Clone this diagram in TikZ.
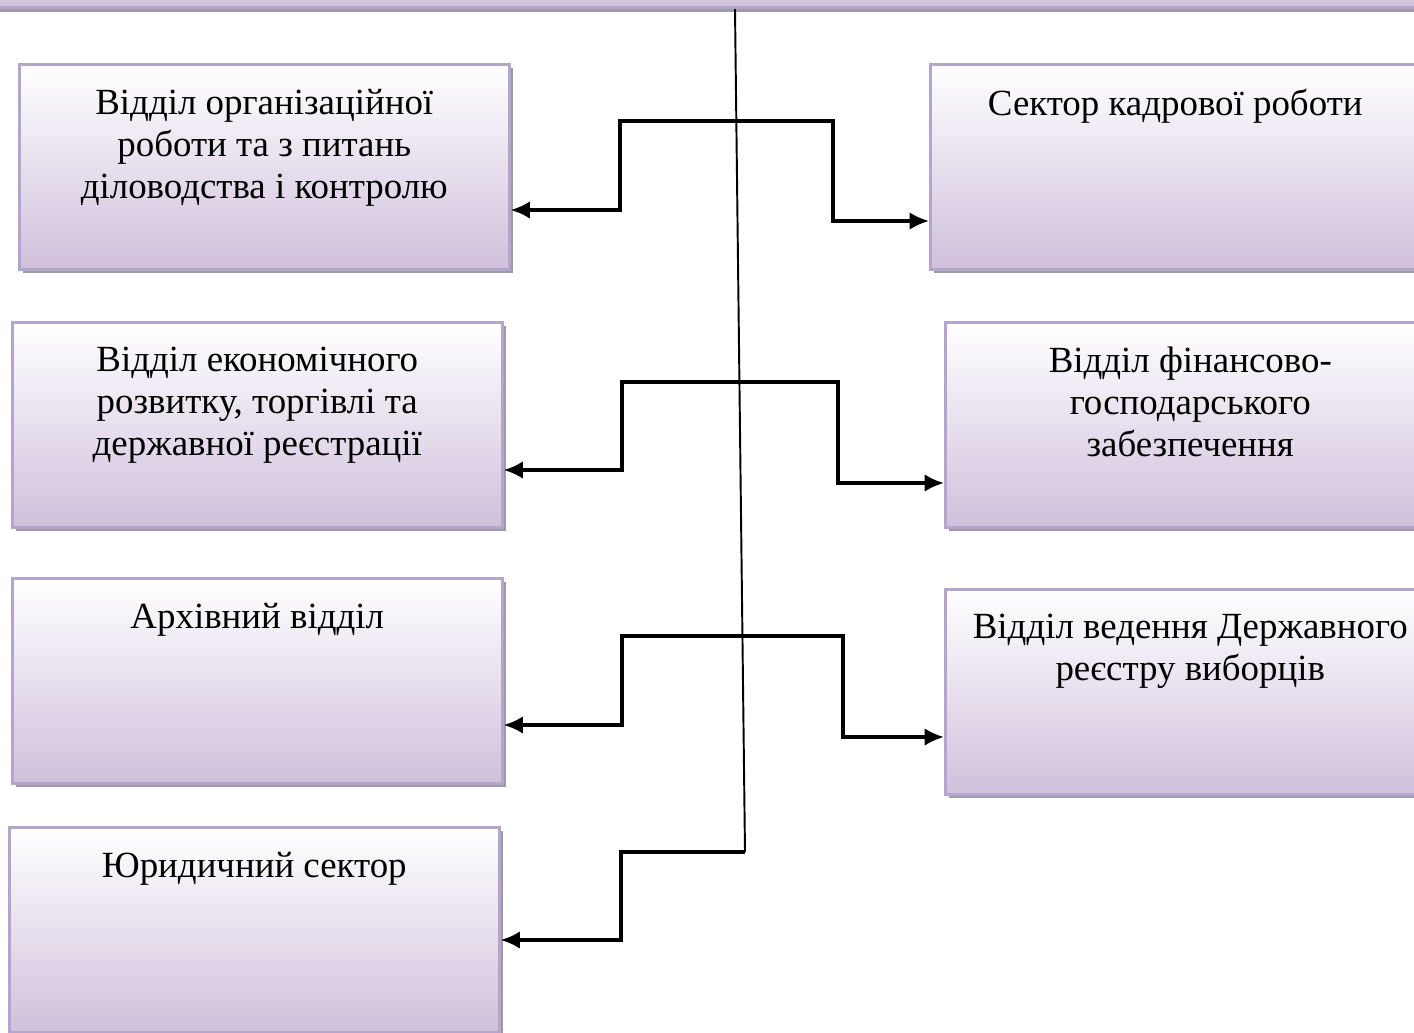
\documentclass[tikz,border=0pt]{standalone}
\usepackage{fontspec}
\setmainfont{Liberation Serif}
\usetikzlibrary{positioning,arrows.meta,shadows}

\definecolor{boxlav}{RGB}{208,192,220}
\definecolor{boxedge}{RGB}{180,165,204}
\definecolor{boxshade}{RGB}{160,154,168}

\tikzset{
    unitbox/.style={rectangle, draw=boxedge, line width=1.5pt,
        top color=white, bottom color=boxlav,
        minimum width=9.8cm, minimum height=4.1cm,
        anchor=north west, inner sep=0pt,
        general shadow={fill=boxshade, shadow xshift=2.3pt, shadow yshift=-2.3pt}},
    unittext/.style={align=center, inner sep=0pt,
        font=\fontsize{21}{24}\selectfont},
    link/.style={line width=2pt,
        {Latex[length=11pt,width=10pt]}-{Latex[length=11pt,width=10pt]}},
    trunk/.style={line width=1.1pt}
}

\begin{document}
\begin{tikzpicture}[x=0.02cm, y=-0.02cm]
    \useasboundingbox (0,0) rectangle (1414,1032);

    % head (cut off at the top)
    \node[unitbox, anchor=south west, minimum width=30cm, minimum height=2cm] (head) at (-20,9) {};

    % left column
    \node[unitbox] (L1) at (18,63) {};
    \node[unitbox] (L2) at (11,321) {};
    \node[unitbox] (L3) at (11,577) {};
    \node[unitbox] (L4) at (8,826) {};
    % right column
    \node[unitbox] (R1) at (929,63) {};
    \node[unitbox] (R2) at (944,321) {};
    \node[unitbox] (R3) at (944,588) {};

    \node[unittext, below=14.5pt of L1.north] (tL1) {Відділ організаційної\\роботи та з питань\\діловодства і контролю};
    \node[unittext, below=14.5pt of L2.north] (tL2) {Відділ економічного\\розвитку, торгівлі та\\державної реєстрації};
    \node[unittext, below=14.5pt of L3.north] (tL3) {Архівний відділ};
    \node[unittext, below=14.5pt of L4.north] (tL4) {Юридичний сектор};
    \node[unittext, below=14.5pt of R1.north] (tR1) {Сектор кадрової роботи};
    \node[unittext, below=14.5pt of R2.north] (tR2) {Відділ фінансово-\\господарського\\забезпечення};
    \node[unittext, below=14.5pt of R3.north] (tR3) {Відділ ведення Державного\\реєстру виборців};

    % trunk line
    \draw[trunk] (head.south -| 735,0) -- (745,852) coordinate (knee);

    % connectors
    \draw[link] (L1.east |- 0,210) -| (620,121) -| (833,221) -- (R1.west |- 0,221);
    \draw[link] (L2.east |- 0,470) -| (622,382) -| (838,483) -- (R2.west |- 0,483);
    \draw[link] (L3.east |- 0,725) -| (622,636) -| (843,737) -- (R3.west |- 0,737);
    \draw[link, {Latex[length=11pt,width=10pt]}-] (L4.east |- 0,940) -| (621,852) -- (knee);
\end{tikzpicture}
\end{document}
